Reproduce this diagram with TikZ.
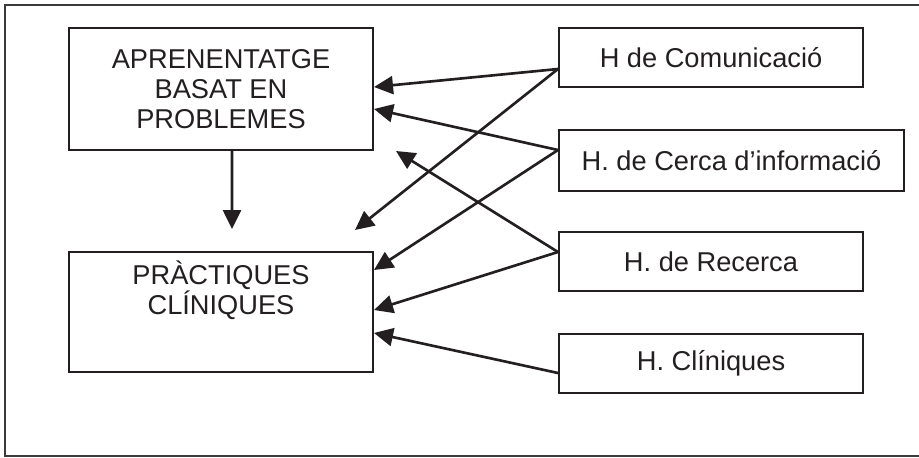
\documentclass[tikz,border=0pt]{standalone}
\usepackage{fontspec}
\setmainfont{Liberation Sans}
\usetikzlibrary{arrows.meta}
\definecolor{ink}{HTML}{231F20}
\definecolor{framegray}{HTML}{3A3A3A}
\tikzset{
  box/.style={draw=ink, line width=1.2pt, align=center, inner sep=0pt,
    text=ink, font=\fontsize{15.5}{17}\selectfont},
  link/.style={draw=ink, line width=1.5pt, -{Triangle[length=.38cm,width=.36cm]}},
}

\begin{document}
\begin{tikzpicture}[x=.02cm,y=-.02cm]
\clip (0,0) rectangle (919,457);
\draw[framegray, line width=1.3pt] (5,5) rectangle (940,456);

% left column
\node[box, minimum width=6.08cm, minimum height=2.44cm] (abp)  at (221,89)  {APRENENTATGE\\BASAT EN\\PROBLEMES};
\node[box, minimum width=6.08cm, minimum height=2.4cm]  (prac) at (221,312) {PRÀCTIQUES\\CLÍNIQUES\\[.2cm]\strut};

% right column
\node[box, minimum width=6.08cm, minimum height=1.18cm] (com)   at (711,57.5)   {H de Comunicació};
\node[box, minimum width=6.9cm,  minimum height=1.22cm] (cerca) at (731.5,160.5) {H. de Cerca d’informació};
\node[box, minimum width=6.08cm, minimum height=1.18cm] (rec)   at (711,261.5)  {H. de Recerca};
\node[box, minimum width=6.08cm, minimum height=1.18cm] (clin)  at (711,363.5)  {H. Clíniques};

\coordinate (down) at (232,229);
\coordinate (free1) at (355,230);
\coordinate (free2) at (396,151);

\draw[link] ([xshift=.22cm]abp.south) -- (down);
\draw[link] ([yshift=-.23cm]com.west) -- ([yshift=.04cm]abp.east);
\draw[link] ([yshift=-.23cm]com.west) -- (free1);
\draw[link] ([yshift=.21cm]cerca.west) -- ([yshift=-.4cm]abp.east);
\draw[link] ([yshift=.21cm]cerca.west) -- ([yshift=.84cm]prac.east);
\draw[link] ([yshift=.19cm]rec.west)   -- (free2);
\draw[link] ([yshift=.19cm]rec.west)   -- ([yshift=.04cm]prac.east);
\draw[link] ([yshift=-.19cm]clin.west) -- ([yshift=-.42cm]prac.east);
\end{tikzpicture}
\end{document}
